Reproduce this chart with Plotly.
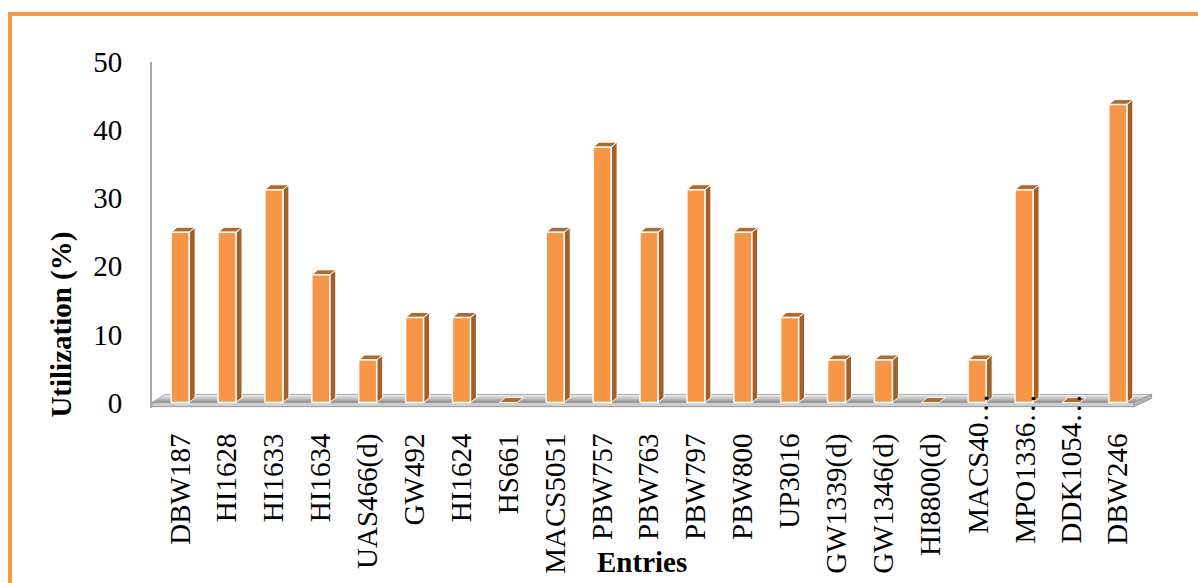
import plotly.graph_objects as go

categories = ["DBW187", "HI1628", "HI1633", "HI1634", "UAS466(d)", "GW492", "HI1624",
              "HS661", "MACS5051", "PBW757", "PBW763", "PBW797", "PBW800", "UP3016",
              "GW1339(d)", "GW1346(d)", "HI8800(d)", "MACS40…", "MPO1336…", "DDK1054…", "DBW246"]
utilization = [25, 25, 31.25, 18.75, 6.25, 12.5, 12.5, 0, 25, 37.5, 25, 31.25, 25, 12.5,
               6.25, 6.25, 0, 6.25, 31.25, 0, 43.75]
y_ticks = [0, 10, 20, 30, 40, 50]

W, H = 1198, 583
FRONT = "#F79646"
SIDE = "#A3602A"
TOP = "#B06A30"
FONT = "Liberation Serif"

bw = 0.384   # front face width (category units)
dx = 0.128   # depth offset x
dy = 0.73    # depth offset y

xr = [-0.6, 20.75]
yr = [-0.8, 50]

fig = go.Figure()

# floor (top surface)
n = len(categories)
fx0, fx1 = xr[0], n - 1 + 0.35
fbx0, fbx1 = -0.32, n - 1 + 0.72
fdy = 1.2
fig.add_trace(go.Scatter(
    x=[fx0, fx1, fbx1, fbx0, fx0], y=[0, 0, fdy, fdy, 0],
    fill="toself", mode="lines", line=dict(color="#a6a6a6", width=1),
    fillgradient=dict(type="vertical", colorscale=[[0, "#8a8a8a"], [0.5, "#c4c4c4"], [1, "#f5f5f5"]]),
    hoverinfo="skip", showlegend=False))
# floor front face
fig.add_trace(go.Scatter(
    x=[fx0, fx1, fx1, fx0, fx0], y=[0, 0, -0.6, -0.6, 0],
    fill="toself", mode="lines", line=dict(color="#999999", width=1),
    fillcolor="#cfcfcf", hoverinfo="skip", showlegend=False))
# floor right face
fig.add_trace(go.Scatter(
    x=[fx1, fbx1, fbx1, fx1, fx1], y=[0, fdy, fdy - 0.6, -0.6, 0],
    fill="toself", mode="lines", line=dict(color="#999999", width=1),
    fillcolor="#b5b5b5", hoverinfo="skip", showlegend=False))

fx, fy, sx, sy, tx, ty = [], [], [], [], [], []
for i, v in enumerate(utilization):
    l, r = i - bw / 2, i + bw / 2
    if v > 0:
        fx += [l, r, r, l, l, None]
        fy += [0, 0, v, v, 0, None]
        sx += [r, r + dx, r + dx, r, r, None]
        sy += [0, dy, v + dy, v, 0, None]
    tx += [l, r, r + dx, l + dx, l, None]
    ty += [v, v, v + dy, v + dy, v, None]

fig.add_trace(go.Scatter(x=sx, y=sy, fill="toself", mode="lines",
                         line=dict(color="white", width=1), fillcolor=SIDE,
                         hoverinfo="skip", showlegend=False))
fig.add_trace(go.Scatter(x=tx, y=ty, fill="toself", mode="lines",
                         line=dict(color="white", width=1), fillcolor=TOP,
                         hoverinfo="skip", showlegend=False))
fig.add_trace(go.Scatter(x=fx, y=fy, fill="toself", mode="lines",
                         line=dict(color="white", width=1.5), fillcolor=FRONT,
                         hoverinfo="skip", showlegend=False))

ml, mr, mt = 152, 45, 62
mb = 174.5
pw = W - ml - mr
ph = H - mt - mb

def px_x(p):
    return (p - ml) / pw

def px_y(p):
    return 1 - (p - mt) / ph

# truncated labels overflow upward (as in the original), drawn as annotations
tick_text = [c if not c.endswith("…") else "" for c in categories]
label_annots = [
    dict(text=c, xref="x", yref="paper", x=i, y=px_y(392), yanchor="top", xanchor="center",
         textangle=-90, showarrow=False, font=dict(family=FONT, size=29))
    for i, c in enumerate(categories) if c.endswith("…")
]

fig.update_layout(
    width=W, height=H,
    margin=dict(l=ml, r=mr, t=mt, b=mb, autoexpand=False),
    paper_bgcolor="white", plot_bgcolor="white",
    font=dict(family=FONT, size=29, color="black"),
    xaxis=dict(range=xr, tickmode="array", tickvals=list(range(n)), ticktext=tick_text,
               tickangle=-90, showgrid=False, zeroline=False, showline=False,
               ticks="outside", ticklen=13, tickcolor="rgba(0,0,0,0)", automargin=False,
               tickfont=dict(family=FONT, size=29)),
    yaxis=dict(range=yr, tickvals=y_ticks, showgrid=False, zeroline=False,
               showline=True, linecolor="#a6a6a6", linewidth=2, automargin=False,
               ticks="outside", ticklen=22, tickcolor="rgba(0,0,0,0)",
               tickfont=dict(family=FONT, size=29)),
    shapes=[dict(type="rect", xref="paper", yref="paper",
                 x0=px_x(10), x1=px_x(1230), y0=px_y(14), y1=px_y(620),
                 line=dict(color="#F79646", width=4), fillcolor="rgba(0,0,0,0)")],
    annotations=label_annots + [
        dict(text="<b>Entries</b>", xref="paper", yref="paper", x=px_x(642), y=px_y(563),
             showarrow=False, font=dict(family=FONT, size=29), xanchor="center", yanchor="middle"),
        dict(text="<b>Utilization (%)</b>", xref="paper", yref="paper", x=px_x(62), y=px_y(325),
             showarrow=False, textangle=-90, font=dict(family=FONT, size=29),
             xanchor="center", yanchor="middle"),
    ],
)

fig.write_html("out.html")
